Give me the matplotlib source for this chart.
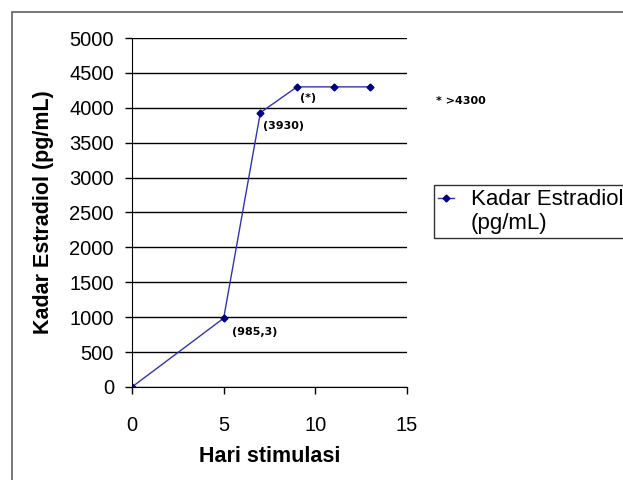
import matplotlib
matplotlib.use('Agg')
from matplotlib import pyplot as plt
from matplotlib.patches import Rectangle
from matplotlib.lines import Line2D

hari = [0, 5, 7, 9, 11, 13]
kadar = [0, 985.3, 3930, 4300, 4300, 4300]
labels = ['', '(985,3)', '(3930)', '(*)', '', '']
label_offsets = [(0, 0), (8, -14), (3, -13), (3, -11), (0, 0), (0, 0)]

plt.rcParams['font.family'] = ['Liberation Sans', 'DejaVu Sans']

fig = plt.figure(figsize=(6.23, 4.8), dpi=100)
ax = fig.add_axes([0.2119, 0.1938, 0.4414, 0.727])

# grey frame around the whole chart
fig.patches.append(Rectangle((12 / 623, -0.1), 1.1, 1.1 - 12 / 480,
                             transform=fig.transFigure, fill=False,
                             edgecolor='#606060', linewidth=1.2))

line, = ax.plot(hari, kadar, color='#3333aa', linewidth=1, marker='D',
                markersize=3.5, markerfacecolor='#000080', markeredgecolor='#000080')

for x, y, txt, off in zip(hari, kadar, labels, label_offsets):
    if txt:
        ax.annotate(txt, (x, y), xytext=off, textcoords='offset pixels',
                    ha='left', va='center', fontsize=8, fontweight='bold',
                    family='DejaVu Sans')

ax.set_xlim(0, 15)
ax.set_ylim(0, 5000)
ax.set_xticks([0, 5, 10, 15])
ax.set_yticks(range(0, 5001, 500))
ax.yaxis.grid(True, color='black', linewidth=1)
ax.set_axisbelow(True)
for s in ['top', 'right']:
    ax.spines[s].set_visible(False)
ax.tick_params(axis='both', labelsize=14.5, width=1, direction='out')
ax.tick_params(axis='x', length=5, pad=16)
ax.tick_params(axis='y', length=5, pad=8)
ax.set_xlabel('Hari stimulasi', fontsize=15.5, fontweight='bold')
ax.set_ylabel('Kadar Estradiol (pg/mL)', fontsize=15.5, fontweight='bold')
ax.xaxis.set_label_coords(0.5, -0.17)
ax.yaxis.set_label_coords(-0.285, 0.5)

fig.text(436 / 623, 1 - 101 / 480, '* >4300', fontsize=8, fontweight='bold',
         ha='left', va='center', family='DejaVu Sans')

blank = Line2D([], [], color='none')
leg = fig.legend(handles=[line, blank], labels=['Kadar Estradiol', '(pg/mL)'],
                 loc='upper left', bbox_to_anchor=(434 / 623, 1 - 185 / 480),
                 fontsize=16, frameon=True, fancybox=False, borderaxespad=0,
                 handlelength=0.7, handletextpad=0.75, borderpad=0.2,
                 labelspacing=0.1)
leg.get_frame().set_edgecolor('black')
leg.get_frame().set_linewidth(1)

fig.savefig('out.png', dpi=100)
